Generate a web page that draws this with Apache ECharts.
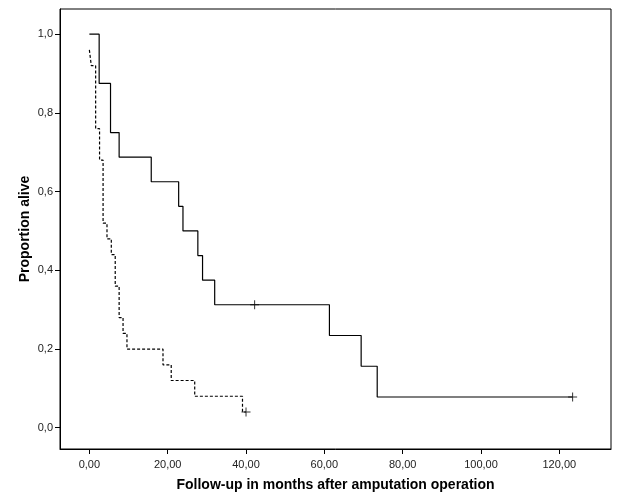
<!DOCTYPE html>
<html>
<head>
<meta charset="utf-8">
<script src="https://cdn.jsdelivr.net/npm/echarts@6/dist/echarts.min.js"></script>
<style>
  html, body { margin: 0; padding: 0; background: #fff; }
  #survival-pic { width: 625px; height: 500px; }
</style>
</head>
<body>
<div id="survival-pic"></div>
<script>
  // Kaplan-Meier, solid group (event times and survival after each step)
  var solidTimes = [0, 2.5, 5.4, 7.6, 15.8, 22.8, 23.9, 27.7, 28.9, 32.0, 61.3, 69.4, 73.5, 123.4]
  var solidSurv = [1.0, 0.875, 0.75, 0.6875, 0.625, 0.5625, 0.5, 0.4375, 0.375, 0.3125, 0.2344, 0.1563, 0.0781, 0.0781]
  var solidCensorT = [42.2, 123.4]
  var solidCensorS = [0.3125, 0.0781]

  // dashed group
  var dashTimes = [0, 0.5, 1.6, 2.6, 3.5, 4.5, 5.6, 6.6, 7.6, 8.6, 9.6, 18.8, 20.9, 26.9, 39.1, 40.0]
  var dashSurv = [0.96, 0.92, 0.76, 0.68, 0.52, 0.48, 0.44, 0.36, 0.28, 0.24, 0.20, 0.16, 0.12, 0.08, 0.04, 0.04]
  var dashCensorT = [40.0]
  var dashCensorS = [0.04]

  var xTicks = [0, 20, 40, 60, 80, 100, 120]
  var yTicks = [0, 0.2, 0.4, 0.6, 0.8, 1.0]

  function pairs (a, b) {
    return a.map(function (v, i) { return [v, b[i]] })
  }

  var plusSymbol = 'path://M4,0h1v4h4v1h-4v4h-1v-4h-4v-1h4z'
  var fontFam = '"Liberation Sans", Arial, sans-serif'

  var chart = echarts.init(document.getElementById('survival-pic'))
  var option = {
    backgroundColor: '#fff',
    animation: false,
    grid: {
      left: 60,
      right: 14,
      top: 9,
      bottom: 51,
      show: true,
      borderColor: '#000',
      borderWidth: 1
    },
    xAxis: {
      type: 'value',
      min: -7.5,
      max: 133.2,
      name: 'Follow-up in months after amputation operation',
      nameLocation: 'middle',
      nameGap: 29,
      nameMoveOverlap: false,
      nameTextStyle: { fontFamily: fontFam, fontWeight: 'bold', fontSize: 14, color: '#000' },
      axisLine: { show: true, onZero: false, lineStyle: { color: '#000' } },
      axisTick: { show: true, length: 5, customValues: xTicks, lineStyle: { color: '#000' } },
      axisLabel: {
        customValues: xTicks,
        fontFamily: fontFam,
        fontSize: 11,
        color: '#222',
        margin: 10,
        formatter: function (v) { return v.toFixed(2).replace('.', ',') }
      },
      splitLine: { show: false }
    },
    yAxis: {
      type: 'value',
      min: -0.054,
      max: 1.064,
      name: 'Proportion alive',
      nameLocation: 'middle',
      nameGap: 28,
      nameMoveOverlap: false,
      nameTextStyle: { fontFamily: fontFam, fontWeight: 'bold', fontSize: 14, color: '#000' },
      axisLine: { show: true, onZero: false, lineStyle: { color: '#000' } },
      axisTick: { show: true, length: 5, customValues: yTicks, lineStyle: { color: '#000' } },
      axisLabel: {
        customValues: yTicks,
        fontFamily: fontFam,
        fontSize: 11,
        color: '#222',
        margin: 7,
        formatter: function (v) { return v.toFixed(1).replace('.', ',') }
      },
      splitLine: { show: false }
    },
    series: [
      {
        name: 'solid',
        type: 'line',
        step: 'end',
        showSymbol: false,
        data: pairs(solidTimes, solidSurv),
        lineStyle: { color: '#000', width: 1.2 }
      },
      {
        name: 'dashed',
        type: 'line',
        step: 'end',
        showSymbol: false,
        data: pairs(dashTimes, dashSurv),
        lineStyle: { color: '#000', width: 1.2, type: [3, 2] }
      },
      {
        name: 'censored',
        type: 'scatter',
        symbol: plusSymbol,
        symbolSize: 9,
        itemStyle: { color: '#000' },
        data: pairs(solidCensorT, solidCensorS).concat(pairs(dashCensorT, dashCensorS))
      }
    ]
  }
  chart.setOption(option)
</script>
</body>
</html>
